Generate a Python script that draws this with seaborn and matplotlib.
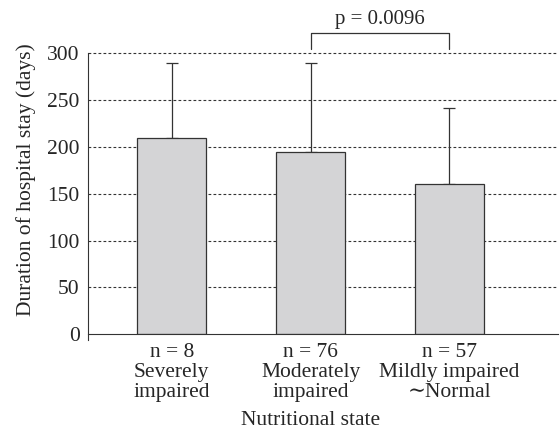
import pandas as pd
import numpy as np
import matplotlib
matplotlib.use('Agg')
import matplotlib.pyplot as plt
import seaborn as sns

groups = ['Severely\nimpaired', 'Moderately\nimpaired', 'Mildly impaired\n\u223cNormal']
n_counts = [8, 76, 57]
mean_stay = [210, 195, 160]
sd_stay = [80, 95, 82]
p_label = 'p = 0.0096'

sns.set_style('white')
plt.rcParams['font.family'] = ['Liberation Serif', 'DejaVu Serif']
plt.rcParams['font.size'] = 15.5

data = pd.DataFrame({'group': [f'n = {n}\n{g}' for n, g in zip(n_counts, groups)],
                     'stay': mean_stay})

fig = plt.figure(figsize=(5.6, 4.29), dpi=100)
ax = fig.add_axes([0.157, 0.221, 0.839, 0.72])

for y in range(50, 301, 50):
    ax.axhline(y, color='#333333', lw=0.8, ls=(0, (2.5, 2)), zorder=0)

sns.barplot(data=data, x='group', y='stay', color='#d4d4d6', edgecolor='#333333',
            linewidth=0.9, width=0.5, ax=ax, zorder=2)
ax.errorbar(np.arange(len(mean_stay)), mean_stay, yerr=[np.zeros(3), sd_stay],
            fmt='none', ecolor='#333333', elinewidth=0.9, capsize=4, capthick=0.9, zorder=1)

# significance bracket between groups 2 and 3
ax.plot([1, 1, 2, 2], [305, 322, 322, 305], color='#333333', lw=0.9, clip_on=False)
ax.text(1.5, 326, p_label, ha='center', va='bottom', fontsize=15)

ax.set_ylim(0, 330)
ax.set_xlim(-0.604, 2.78)
ax.set_yticks(range(0, 301, 50))
ax.tick_params(axis='y', direction='out', length=4, width=0.9, color='#333333', pad=2)
ax.tick_params(axis='x', length=0, pad=6)
ax.set_xticks(range(3))
ax.set_xticklabels(data['group'], linespacing=1.1)
for s in ['top', 'right']:
    ax.spines[s].set_visible(False)
ax.spines['left'].set_bounds(-6, 300)
ax.spines['left'].set_color('#333333')
ax.spines['bottom'].set_color('#333333')
ax.set_ylabel('Duration of hospital stay (days)', labelpad=8)
ax.set_xlabel('Nutritional state')
ax.xaxis.set_label_coords(0.474, -0.25)

fig.savefig('out.png', dpi=100)
